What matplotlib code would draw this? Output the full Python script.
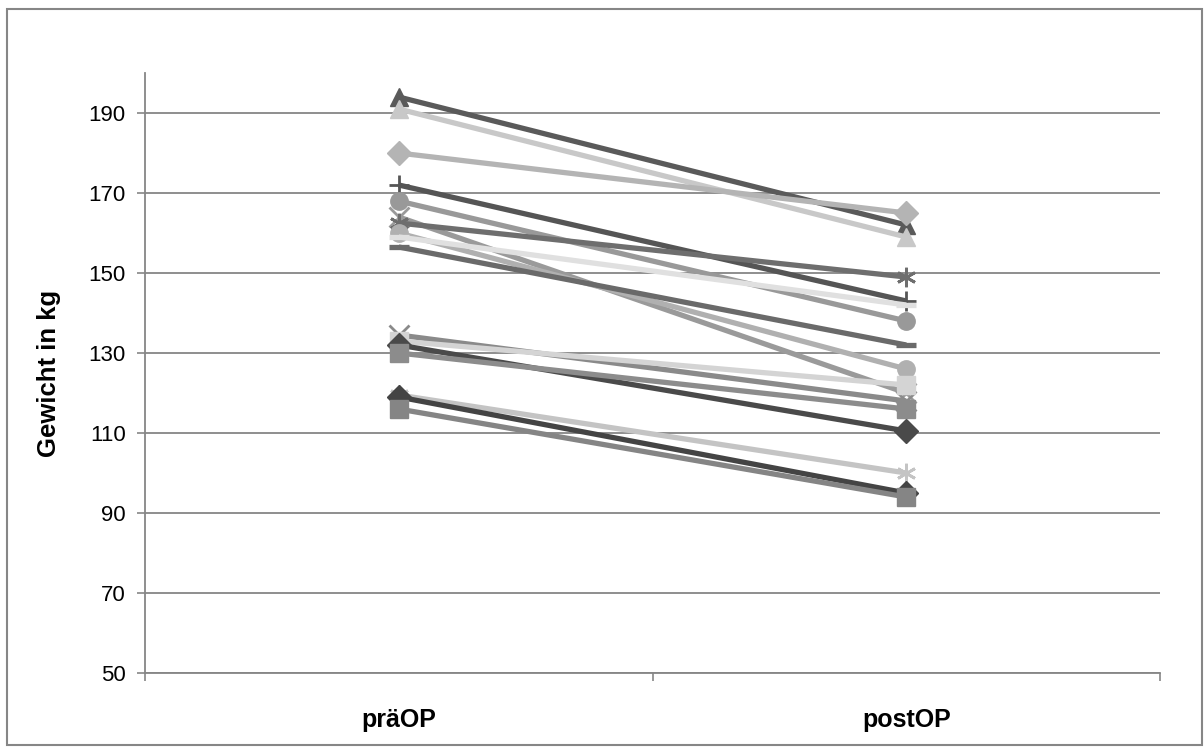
import matplotlib
matplotlib.use("Agg")
import matplotlib.pyplot as plt
from matplotlib.patches import Rectangle

categories = ["präOP", "postOP"]
pre_values = [194, 191, 180, 172, 168, 164, 162.5, 160, 159, 156.5,
              134.5, 133, 132, 130, 119.5, 119, 116]
post_values = [162, 159, 165, 143, 138, 120, 149, 126, 142, 132,
               118, 122, 110.5, 116, 100, 95, 94]
markers = ["^", "^", "D", "+", "o", "x", (6, 2, 0), "o", "_", "_",
           "x", "s", "D", "s", (6, 2, 0), "D", "s"]
colors = ["#5a5a5a", "#c8c8c8", "#b4b4b4", "#555555", "#999999", "#9a9a9a",
          "#6e6e6e", "#b0b0b0", "#e0e0e0", "#6a6a6a",
          "#8a8a8a", "#d4d4d4", "#4a4a4a", "#8c8c8c", "#c4c4c4", "#444444", "#858585"]
y_ticks = [50, 70, 90, 110, 130, 150, 170, 190]

plt.rcParams['font.family'] = ['Liberation Sans', 'DejaVu Sans']

fig = plt.figure(figsize=(12.04, 7.51), dpi=100)
fig.patches.append(Rectangle((7/1204, 1 - 745/751), (1202-7)/1204, (745-9)/751,
                             transform=fig.transFigure, fill=False,
                             edgecolor="#868686", linewidth=1.5))
ax = fig.add_axes([145/1204, 78/751, (1160-145)/1204, 600/751])

xpos = [0.5, 1.5]
for pre, post, m, c in zip(pre_values, post_values, markers, colors):
    ms = 12.5
    mew = 1.0
    if m in ("x", "+") or isinstance(m, tuple):
        mew = 2.0
        ms = 14
    if m == "_":
        mew = 3.8
        ms = 14
    ax.plot(xpos, [pre, post], color=c, linewidth=3.8, marker=m,
            markersize=ms, markerfacecolor=c, markeredgecolor=c,
            markeredgewidth=mew, solid_capstyle="butt")

ax.set_xlim(0, 2)
ax.set_ylim(50, 200)
ax.set_yticks(y_ticks)
ax.set_yticklabels([str(v) for v in y_ticks], fontsize=16)
ax.set_xticks([0, 1, 2])
ax.set_xticklabels([])
ax.set_xticks(xpos, minor=True)
ax.set_xticklabels(categories, minor=True, fontsize=18, fontweight="bold")
ax.tick_params(axis="x", which="minor", length=0, pad=25)
ax.tick_params(axis="x", which="major", length=6, color="#868686", width=1.2)
ax.tick_params(axis="y", length=6, color="#868686", width=1.2, pad=8)
ax.yaxis.grid(True, color="#868686", linewidth=1.3)
ax.set_axisbelow(True)
for s in ("top", "right"):
    ax.spines[s].set_visible(False)
for s in ("left", "bottom"):
    ax.spines[s].set_color("#868686")
    ax.spines[s].set_linewidth(1.3)
ax.set_ylabel("Gewicht in kg", fontsize=18.5, fontweight="bold", labelpad=20)

fig.savefig("out.png", dpi=100)
